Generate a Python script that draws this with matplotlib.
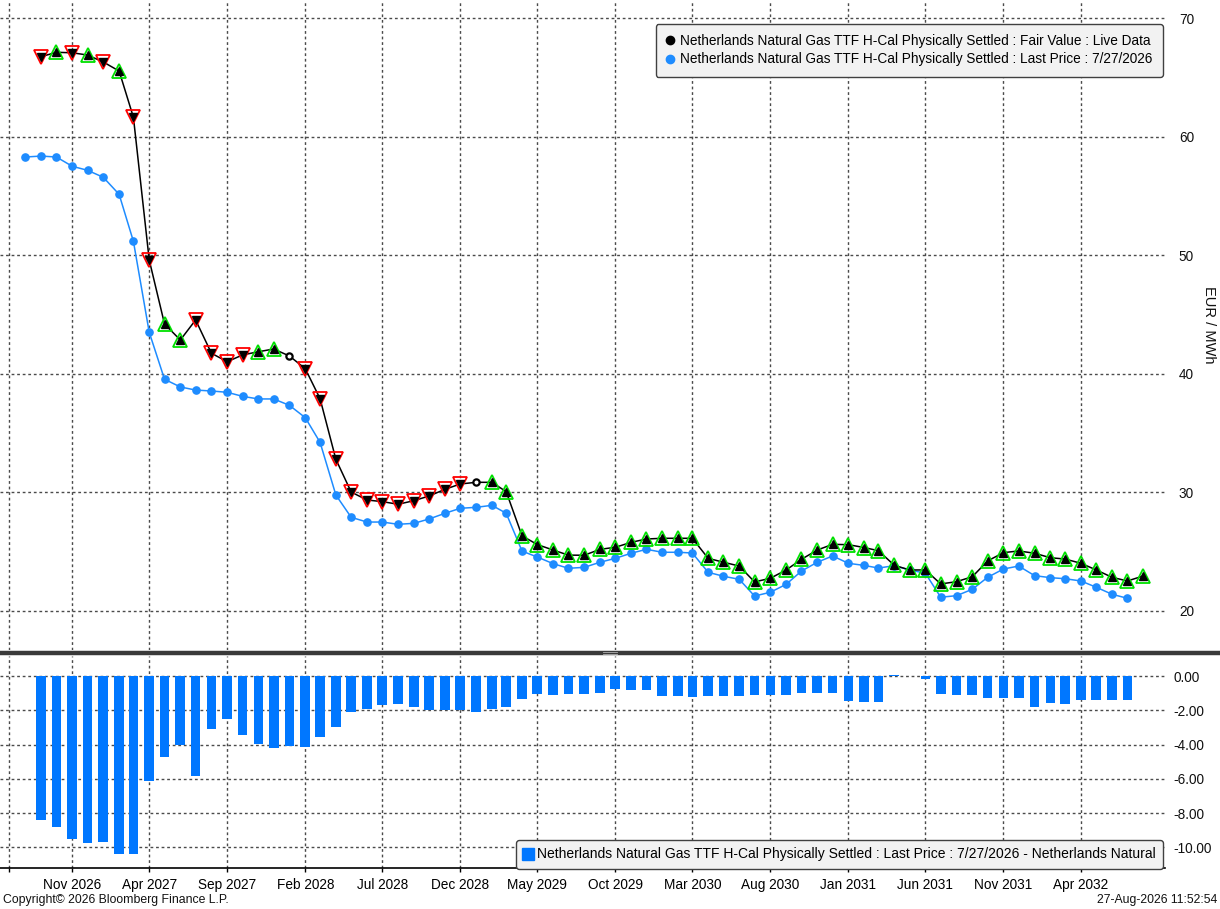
import matplotlib
matplotlib.use("Agg")
import matplotlib.pyplot as plt
import matplotlib.dates as mdates
from matplotlib.lines import Line2D
import pandas as pd

plt.rcParams['font.family'] = ['Liberation Sans', 'DejaVu Sans']

# Precio ultimo (27/07/2026), contratos mensuales desde ago 2026
precio_ultimo = [
    58.28, 58.36, 58.28, 57.50, 57.16,
    56.57, 55.13, 51.17, 43.50, 39.54, 38.89, 38.63, 38.55, 38.44, 38.10, 37.88, 37.88,
    37.34, 36.30, 34.22, 29.78, 27.90, 27.50, 27.50, 27.31, 27.39, 27.76, 28.24, 28.66,
    28.74, 28.91, 28.24, 25.05, 24.55, 23.99, 23.60, 23.68, 24.11, 24.44, 24.87, 25.20,
    24.95, 24.95, 24.89, 23.26, 22.93, 22.67, 21.26, 21.58, 22.25, 23.37, 24.11, 24.64,
    24.02, 23.84, 23.62, 23.82, 23.46, 23.18, 21.16, 21.29, 21.83, 22.84, 23.54, 23.79,
    22.98, 22.81, 22.72, 22.53, 22.00, 21.41, 21.07,
]

# Valor justo (datos en vivo), desde sep 2026
valor_justo = [
    66.74, 67.11, 67.07, 66.88,
    66.29, 65.53, 61.63, 49.60, 44.20, 42.85, 44.54, 41.73, 41.02, 41.59, 41.86, 42.09,
    41.50, 40.43, 37.90, 32.79, 30.03, 29.36, 29.22, 29.00, 29.30, 29.70, 30.26, 30.71,
    30.85, 30.85, 30.06, 26.34, 25.60, 25.14, 24.71, 24.70, 25.20, 25.37, 25.79, 26.07,
    26.13, 26.13, 26.13, 24.44, 24.11, 23.79, 22.45, 22.76, 23.46, 24.36, 25.14, 25.62,
    25.59, 25.35, 25.08, 23.85, 23.46, 23.46, 22.28, 22.47, 22.89, 24.22, 24.92, 25.06,
    24.87, 24.49, 24.38, 24.02, 23.46, 22.84, 22.53, 22.95,
]

# marcador de cada punto del valor justo: d = baja, u = sube, n = sin cambio
estado_fv = (
    ['d', 'u', 'd', 'u', 'd', 'u', 'd', 'd', 'u', 'u', 'd', 'd', 'd', 'd', 'u', 'u', 'n']
    + ['d'] * 11 + ['n'] + ['u'] * 43
)

# diferencia precio ultimo - valor justo, desde sep 2026
diferencia = [
    -8.39, -8.83, -9.53, -9.73, -9.67, -10.41, -10.41, -6.10, -4.70, -4.00, -5.86, -3.07,
    -2.49, -3.42, -3.94, -4.17, -4.06, -4.12, -3.53, -2.95, -2.08, -1.90, -1.67, -1.61,
    -1.79, -1.98, -1.98, -1.98, -2.08, -1.90, -1.79, -1.32, -1.03, -1.09, -1.03, -1.03,
    -0.97, -0.74, -0.82, -0.82, -1.15, -1.15, -1.20, -1.15, -1.15, -1.15, -1.09, -1.09,
    -1.09, -0.97, -0.97, -0.97, -1.44, -1.50, -1.50, 0.05, 0.03, -0.19, -1.03, -1.09,
    -1.09, -1.26, -1.26, -1.26, -1.79, -1.55, -1.61, -1.38, -1.38, -1.38, -1.38,
]

etiquetas_x = ["Nov 2026", "Apr 2027", "Sep 2027", "Feb 2028", "Jul 2028", "Dec 2028",
               "May 2029", "Oct 2029", "Mar 2030", "Aug 2030", "Jan 2031", "Jun 2031",
               "Nov 2031", "Apr 2032"]

nombre = "Netherlands Natural Gas TTF H-Cal Physically Settled"
leyenda_fv = nombre + " : Fair Value : Live Data"
leyenda_lp = nombre + " : Last Price : 7/27/2026"
leyenda_dif = nombre + " : Last Price : 7/27/2026 - Netherlands Natural"

meses_lp = pd.date_range("2026-08-01", periods=len(precio_ultimo), freq="MS")
meses_fv = pd.date_range("2026-09-01", periods=len(valor_justo), freq="MS")
meses_dif = pd.date_range("2026-09-01", periods=len(diferencia), freq="MS")

AZUL = '#1e8cff'
AZUL_BARRA = '#0077ff'
GRIS = '#4a4a4a'

W, H = 1220, 909
fig = plt.figure(figsize=(12.2, 9.09), dpi=100)
ax = fig.add_axes([0, 1 - 650 / H, 1165 / W, 650 / H])
ax2 = fig.add_axes([0, 1 - 868 / H, 1165 / W, (868 - 656) / H], sharex=ax)

# lineas
ax.plot(meses_lp, precio_ultimo, color=AZUL, lw=1.1, marker='o', ms=5.2,
        mec=AZUL, mfc=AZUL, zorder=3)
ax.plot(meses_fv, valor_justo, color='black', lw=1.1, zorder=4)

for fecha, v, e in zip(meses_fv, valor_justo, estado_fv):
    if e == 'u':
        ax.plot(fecha, v, marker='^', ms=10, mfc='none', mec='#00e000', mew=1.3, zorder=5)
        ax.plot(fecha, v, marker='^', ms=6, mfc='black', mec='black', zorder=6)
    elif e == 'd':
        ax.plot(fecha, v, marker='v', ms=10, mfc='none', mec='#ff0000', mew=1.3, zorder=5)
        ax.plot(fecha, v, marker='v', ms=6, mfc='black', mec='black', zorder=6)
    else:
        ax.plot(fecha, v, marker='o', ms=4.5, mfc='white', mec='black', mew=1.6, zorder=6)

# barras
ax2.bar(meses_dif, diferencia, width=19, color=AZUL_BARRA, zorder=3)

# ejes x
inicio = mdates.date2num(pd.Timestamp("2026-08-01"))
ax.set_xlim(inicio - 49.6, inicio + 2234.8)
ticks = [pd.Timestamp("2026-07-01")] + [pd.to_datetime(t, format="%b %Y") for t in etiquetas_x]
ax2.set_xticks(ticks)
ax2.set_xticklabels([""] + etiquetas_x)
ax.tick_params(axis='x', labelbottom=False, length=0)
ax2.tick_params(axis='x', direction='out', length=3, width=1, pad=4,
                labelsize=9.8, colors='black')

ax.set_ylim(16.71, 71.52)
ax.set_yticks([20, 30, 40, 50, 60, 70])
ax2.set_ylim(-11.2, 1.17)
ax2.set_yticks([0, -2, -4, -6, -8, -10])
ax2.set_yticklabels([f"{v:.2f}" for v in [0, -2, -4, -6, -8, -10]])

for a in (ax, ax2):
    a.yaxis.tick_right()
    a.tick_params(axis='y', length=0, pad=10, labelsize=9.8, labelcolor='#111111')
    a.grid(True, color=GRIS, linestyle=(0, (2, 2)), linewidth=1, zorder=0)
    a.set_axisbelow(True)
    for s in a.spines.values():
        s.set_visible(False)
ax2.tick_params(axis='y', pad=6)
ax2.spines['bottom'].set_visible(True)
ax2.spines['bottom'].set_color('black')
ax2.spines['bottom'].set_linewidth(1.2)

fig.text(1209 / W, 1 - 325 / H, "EUR / MWh", rotation=270, ha='center', va='center',
         fontsize=10.5, color='#111111')

# leyendas
h1 = [Line2D([], [], ls='none', marker='o', ms=6, color='black'),
      Line2D([], [], ls='none', marker='o', ms=6, color=AZUL)]
lg = ax.legend(h1, [leyenda_fv, leyenda_lp], loc='upper right',
               bbox_to_anchor=(1163 / W, 1 - 24 / H), bbox_transform=fig.transFigure,
               borderaxespad=0, fontsize=9.85, handlelength=0.6, handletextpad=0.45,
               labelspacing=0.3, borderpad=0.75, frameon=True, fancybox=True)
lg.get_frame().set_facecolor('#f2f2f2')
lg.get_frame().set_edgecolor('#404040')
lg.get_frame().set_alpha(1)

h2 = [Line2D([], [], ls='none', marker='s', ms=9, color=AZUL_BARRA)]
lg2 = ax2.legend(h2, [leyenda_dif], loc='lower right',
                 bbox_to_anchor=(1163 / W, 1 - 869 / H), bbox_transform=fig.transFigure,
                 borderaxespad=0, fontsize=10, handlelength=0.6, handletextpad=0.35,
                 borderpad=0.55, frameon=True, fancybox=True)
lg2.get_frame().set_facecolor('#f2f2f2')
lg2.get_frame().set_edgecolor('#404040')
lg2.get_frame().set_alpha(1)

# separador entre paneles
fig.add_artist(Line2D([0, 1], [1 - 653 / H, 1 - 653 / H], transform=fig.transFigure,
                      color='#3a3a3a', lw=3.2))
for dy in (-0.9, 0.9):
    fig.add_artist(Line2D([603 / W, 617 / W], [1 - (653 + dy) / H] * 2,
                          transform=fig.transFigure, color='#b0b0b0', lw=0.6))

fig.text(3 / W, 1 - 900 / H, "Copyright\u00a9 2026 Bloomberg Finance L.P.", ha='left',
         va='center', fontsize=8.8, color='#111111')
fig.text(1217 / W, 1 - 900 / H, "27-Aug-2026 11:52:54", ha='right', va='center',
         fontsize=8.8, color='#111111')

fig.savefig("out.png", dpi=100, facecolor='white')
